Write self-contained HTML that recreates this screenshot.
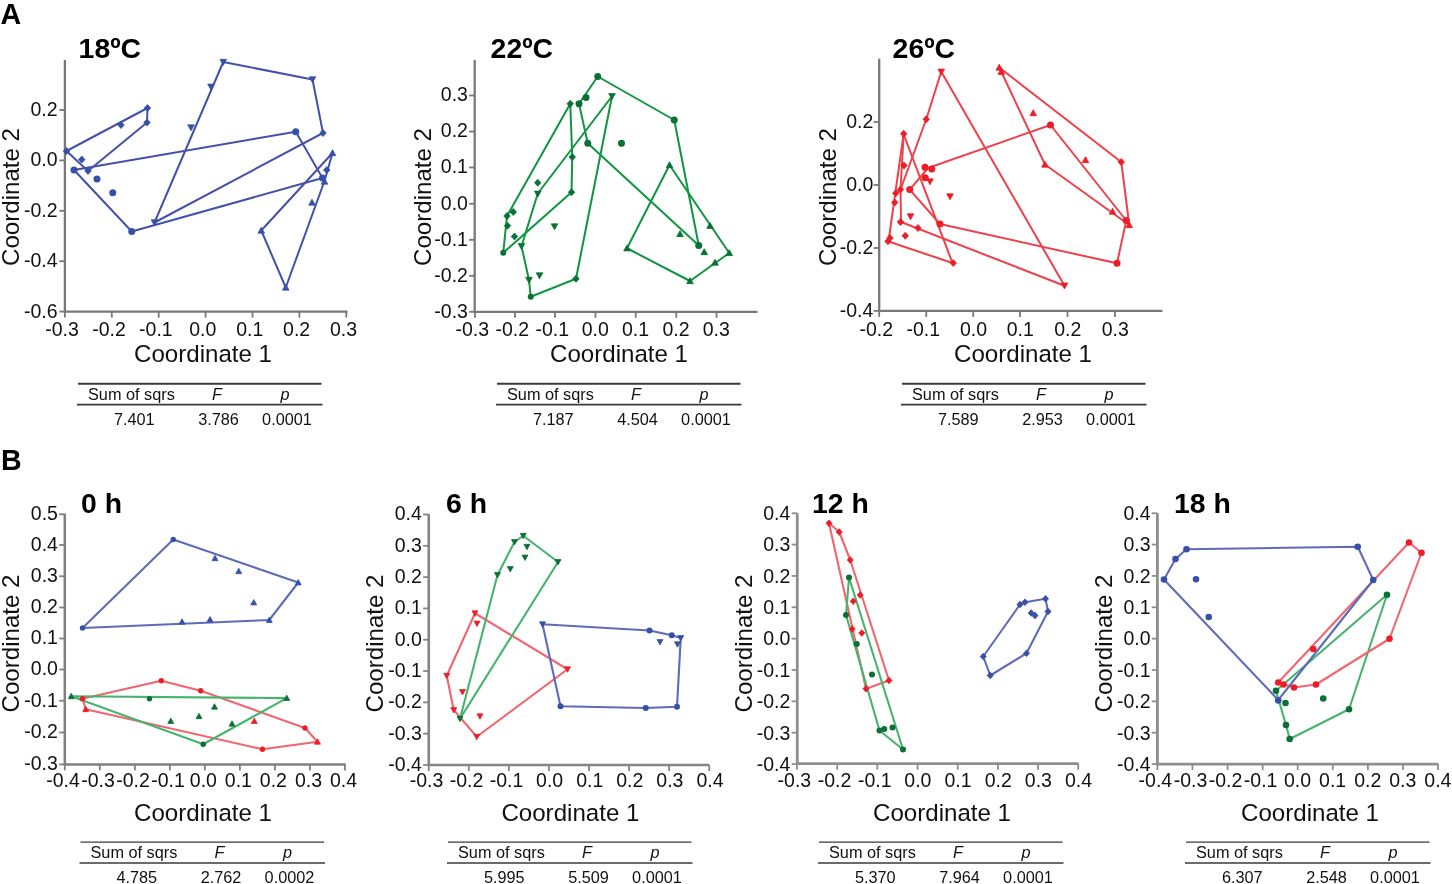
<!DOCTYPE html>
<html lang="en">
<head>
<meta charset="utf-8">
<title>PCoA ordination by temperature and time</title>
<style>
html,body{margin:0;padding:0;background:#fff;}
body{width:1452px;height:884px;overflow:hidden;font-family:"Liberation Sans",sans-serif;}
svg{display:block;filter:blur(0.45px);}
svg text{font-family:"Liberation Sans",sans-serif;fill:#111;}
.tk text{font-size:19.5px;}
.lab{font-size:24.1px;}
.ttl{font-size:28.4px;font-weight:bold;fill:#000;}
.pl{font-size:28.6px;font-weight:bold;fill:#000;}
.tb text{font-size:16.3px;}
</style>
</head>
<body>
<svg width="1452" height="884" viewBox="0 0 1452 884">
<rect width="1452" height="884" fill="#ffffff"/>
<g stroke="#787878" stroke-width="2.3" fill="none">
<path d="M64.9,60 V311.6 H347.5"/>
<path d="M59.300000000000004,110 H64.9" stroke-width="1.8"/>
<path d="M59.300000000000004,160.4 H64.9" stroke-width="1.8"/>
<path d="M59.300000000000004,210.8 H64.9" stroke-width="1.8"/>
<path d="M59.300000000000004,261.2 H64.9" stroke-width="1.8"/>
<path d="M59.300000000000004,311.6 H64.9" stroke-width="1.8"/>
<path d="M64.9,311.6 V317.6" stroke-width="1.8"/>
<path d="M111.8,311.6 V317.6" stroke-width="1.8"/>
<path d="M158.7,311.6 V317.6" stroke-width="1.8"/>
<path d="M205.6,311.6 V317.6" stroke-width="1.8"/>
<path d="M252.5,311.6 V317.6" stroke-width="1.8"/>
<path d="M299.4,311.6 V317.6" stroke-width="1.8"/>
<path d="M346.3,311.6 V317.6" stroke-width="1.8"/>
</g>
<g class="tk">
<text x="57.50000000000001" y="115.90" text-anchor="end">0.2</text>
<text x="57.50000000000001" y="166.30" text-anchor="end">0.0</text>
<text x="57.50000000000001" y="216.70" text-anchor="end">-0.2</text>
<text x="57.50000000000001" y="267.10" text-anchor="end">-0.4</text>
<text x="57.50000000000001" y="317.50" text-anchor="end">-0.6</text>
<text x="62.10000000000001" y="335.8" text-anchor="middle">-0.3</text>
<text x="109.0" y="335.8" text-anchor="middle">-0.2</text>
<text x="155.89999999999998" y="335.8" text-anchor="middle">-0.1</text>
<text x="202.79999999999998" y="335.8" text-anchor="middle">0.0</text>
<text x="249.7" y="335.8" text-anchor="middle">0.1</text>
<text x="296.59999999999997" y="335.8" text-anchor="middle">0.2</text>
<text x="343.5" y="335.8" text-anchor="middle">0.3</text>
</g>
<text class="ttl" x="78.6" y="58">18ºC</text>
<text class="lab" transform="translate(18.5,197) rotate(-90)" text-anchor="middle">Coordinate 2</text>
<text class="lab" x="203" y="361.75" text-anchor="middle">Coordinate 1</text>
<polygon points="66.5,151 147.5,108 147,122.5 88,171" fill="none" stroke="#4352a8" stroke-width="2.0" stroke-linejoin="round"/>
<polygon points="74,170 131.75,231.5 322.5,178 295.75,131.75" fill="none" stroke="#4352a8" stroke-width="2.0" stroke-linejoin="round"/>
<polygon points="223.25,62 312.5,79.5 323,133 154.5,222.5" fill="none" stroke="#4352a8" stroke-width="2.0" stroke-linejoin="round"/>
<polygon points="332.5,153 261.25,230.5 285.75,287.5 324.5,181" fill="none" stroke="#4352a8" stroke-width="2.0" stroke-linejoin="round"/>
<polygon points="223.25,65.30 226.55,59.36 219.95,59.36" fill="#3650a8" stroke="#3650a8" stroke-width="0.8" stroke-linejoin="round"/>
<polygon points="312.5,82.80 315.80,76.86 309.20,76.86" fill="#3650a8" stroke="#3650a8" stroke-width="0.8" stroke-linejoin="round"/>
<polygon points="323,129.50 326.22,133 323,136.50 319.78,133" fill="#3650a8" stroke="#3650a8" stroke-width="0.8" stroke-linejoin="round"/>
<polygon points="211,90.05 214.30,84.11 207.70,84.11" fill="#3650a8" stroke="#3650a8" stroke-width="0.8" stroke-linejoin="round"/>
<polygon points="191,130.80 194.30,124.86 187.70,124.86" fill="#3650a8" stroke="#3650a8" stroke-width="0.8" stroke-linejoin="round"/>
<circle cx="295.75" cy="131.75" r="3.50" fill="#3650a8"/>
<polygon points="147.5,104.50 150.72,108 147.5,111.50 144.28,108" fill="#3650a8" stroke="#3650a8" stroke-width="0.8" stroke-linejoin="round"/>
<polygon points="147,119.00 150.22,122.5 147,126.00 143.78,122.5" fill="#3650a8" stroke="#3650a8" stroke-width="0.8" stroke-linejoin="round"/>
<polygon points="121,121.50 124.22,125 121,128.50 117.78,125" fill="#3650a8" stroke="#3650a8" stroke-width="0.8" stroke-linejoin="round"/>
<polygon points="66.5,147.50 69.72,151 66.5,154.50 63.28,151" fill="#3650a8" stroke="#3650a8" stroke-width="0.8" stroke-linejoin="round"/>
<polygon points="81.75,156.00 84.97,159.5 81.75,163.00 78.53,159.5" fill="#3650a8" stroke="#3650a8" stroke-width="0.8" stroke-linejoin="round"/>
<circle cx="74" cy="170" r="3.50" fill="#3650a8"/>
<polygon points="88,167.50 91.22,171 88,174.50 84.78,171" fill="#3650a8" stroke="#3650a8" stroke-width="0.8" stroke-linejoin="round"/>
<circle cx="97" cy="179" r="3.50" fill="#3650a8"/>
<circle cx="112.75" cy="192.75" r="3.50" fill="#3650a8"/>
<polygon points="332.5,149.70 335.80,155.64 329.20,155.64" fill="#3650a8" stroke="#3650a8" stroke-width="0.8" stroke-linejoin="round"/>
<polygon points="326.75,166.50 329.97,170 326.75,173.50 323.53,170" fill="#3650a8" stroke="#3650a8" stroke-width="0.8" stroke-linejoin="round"/>
<circle cx="322.5" cy="178" r="3.50" fill="#3650a8"/>
<polygon points="324.5,178.20 327.80,184.14 321.20,184.14" fill="#3650a8" stroke="#3650a8" stroke-width="0.8" stroke-linejoin="round"/>
<polygon points="312,199.20 315.30,205.14 308.70,205.14" fill="#3650a8" stroke="#3650a8" stroke-width="0.8" stroke-linejoin="round"/>
<circle cx="131.75" cy="231.5" r="3.50" fill="#3650a8"/>
<polygon points="154.5,225.80 157.80,219.86 151.20,219.86" fill="#3650a8" stroke="#3650a8" stroke-width="0.8" stroke-linejoin="round"/>
<polygon points="261.25,227.20 264.55,233.14 257.95,233.14" fill="#3650a8" stroke="#3650a8" stroke-width="0.8" stroke-linejoin="round"/>
<polygon points="285.75,284.20 289.05,290.14 282.45,290.14" fill="#3650a8" stroke="#3650a8" stroke-width="0.8" stroke-linejoin="round"/>
<g stroke="#3a3a3a" stroke-width="1.8"><path d="M78,383.75 H321.5"/><path d="M77,404.65 H322.5"/></g>
<g class="tb"><text x="88" y="399.55">Sum of sqrs</text><text x="217" y="399.55" text-anchor="middle" font-style="italic">F</text><text x="285" y="399.55" text-anchor="middle" font-style="italic">p</text><text x="134.3" y="425.05" text-anchor="middle">7.401</text><text x="218.5" y="425.05" text-anchor="middle">3.786</text><text x="287" y="425.05" text-anchor="middle">0.0001</text></g>
<g stroke="#787878" stroke-width="2.3" fill="none">
<path d="M474.7,60 V311.8 H757.5"/>
<path d="M469.09999999999997,95.5 H474.7" stroke-width="1.8"/>
<path d="M469.09999999999997,131.5 H474.7" stroke-width="1.8"/>
<path d="M469.09999999999997,167.5 H474.7" stroke-width="1.8"/>
<path d="M469.09999999999997,203.75 H474.7" stroke-width="1.8"/>
<path d="M469.09999999999997,239.8 H474.7" stroke-width="1.8"/>
<path d="M469.09999999999997,275.8 H474.7" stroke-width="1.8"/>
<path d="M469.09999999999997,311.8 H474.7" stroke-width="1.8"/>
<path d="M475,311.8 V317.8" stroke-width="1.8"/>
<path d="M515,311.8 V317.8" stroke-width="1.8"/>
<path d="M555,311.8 V317.8" stroke-width="1.8"/>
<path d="M595.5,311.8 V317.8" stroke-width="1.8"/>
<path d="M635.75,311.8 V317.8" stroke-width="1.8"/>
<path d="M676.25,311.8 V317.8" stroke-width="1.8"/>
<path d="M716.5,311.8 V317.8" stroke-width="1.8"/>
</g>
<g class="tk">
<text x="467.95" y="101.40" text-anchor="end">0.3</text>
<text x="467.95" y="137.40" text-anchor="end">0.2</text>
<text x="467.95" y="173.40" text-anchor="end">0.1</text>
<text x="467.95" y="209.65" text-anchor="end">0.0</text>
<text x="467.95" y="245.70" text-anchor="end">-0.1</text>
<text x="467.95" y="281.70" text-anchor="end">-0.2</text>
<text x="467.95" y="317.70" text-anchor="end">-0.3</text>
<text x="472.2" y="335.8" text-anchor="middle">-0.3</text>
<text x="512.2" y="335.8" text-anchor="middle">-0.2</text>
<text x="552.2" y="335.8" text-anchor="middle">-0.1</text>
<text x="595.2" y="335.8" text-anchor="middle">0.0</text>
<text x="635.45" y="335.8" text-anchor="middle">0.1</text>
<text x="675.95" y="335.8" text-anchor="middle">0.2</text>
<text x="716.2" y="335.8" text-anchor="middle">0.3</text>
</g>
<text class="ttl" x="490.6" y="58">22ºC</text>
<text class="lab" transform="translate(431,197) rotate(-90)" text-anchor="middle">Coordinate 2</text>
<text class="lab" x="619.0" y="361.75" text-anchor="middle">Coordinate 1</text>
<polygon points="597.75,76.5 674.25,120 698.75,245.5 587.75,143.25 579,103.75" fill="none" stroke="#0f9641" stroke-width="2.0" stroke-linejoin="round"/>
<polygon points="570.25,103.75 507,216 503.25,252.75 571.5,192.25 572.25,157" fill="none" stroke="#0f9641" stroke-width="2.0" stroke-linejoin="round"/>
<polygon points="612,96.25 537.75,193.5 521.5,246.25 529,280 530.75,296.75 576,278.75" fill="none" stroke="#0f9641" stroke-width="2.0" stroke-linejoin="round"/>
<polygon points="669.5,165 627,248.25 690,281 729.25,253" fill="none" stroke="#0f9641" stroke-width="2.0" stroke-linejoin="round"/>
<circle cx="597.75" cy="76.5" r="3.50" fill="#0a7035"/>
<circle cx="674.25" cy="120" r="3.50" fill="#0a7035"/>
<circle cx="586" cy="97.5" r="3.50" fill="#0a7035"/>
<circle cx="579" cy="103.75" r="3.50" fill="#0a7035"/>
<polygon points="570.25,100.25 573.47,103.75 570.25,107.25 567.03,103.75" fill="#0a7035" stroke="#0a7035" stroke-width="0.8" stroke-linejoin="round"/>
<polygon points="612,99.55 615.30,93.61 608.70,93.61" fill="#0a7035" stroke="#0a7035" stroke-width="0.8" stroke-linejoin="round"/>
<circle cx="587.75" cy="143.25" r="3.50" fill="#0a7035"/>
<circle cx="621.5" cy="143.25" r="3.50" fill="#0a7035"/>
<polygon points="572.25,153.50 575.47,157 572.25,160.50 569.03,157" fill="#0a7035" stroke="#0a7035" stroke-width="0.8" stroke-linejoin="round"/>
<polygon points="571.5,188.75 574.72,192.25 571.5,195.75 568.28,192.25" fill="#0a7035" stroke="#0a7035" stroke-width="0.8" stroke-linejoin="round"/>
<polygon points="537.75,179.25 540.97,182.75 537.75,186.25 534.53,182.75" fill="#0a7035" stroke="#0a7035" stroke-width="0.8" stroke-linejoin="round"/>
<polygon points="537.75,197.05 541.05,191.11 534.45,191.11" fill="#0a7035" stroke="#0a7035" stroke-width="0.8" stroke-linejoin="round"/>
<polygon points="513.25,208.50 516.47,212 513.25,215.50 510.03,212" fill="#0a7035" stroke="#0a7035" stroke-width="0.8" stroke-linejoin="round"/>
<polygon points="507,212.50 510.22,216 507,219.50 503.78,216" fill="#0a7035" stroke="#0a7035" stroke-width="0.8" stroke-linejoin="round"/>
<polygon points="507.5,222.25 510.72,225.75 507.5,229.25 504.28,225.75" fill="#0a7035" stroke="#0a7035" stroke-width="0.8" stroke-linejoin="round"/>
<polygon points="554.5,229.80 557.80,223.86 551.20,223.86" fill="#0a7035" stroke="#0a7035" stroke-width="0.8" stroke-linejoin="round"/>
<polygon points="514.5,233.00 517.72,236.5 514.5,240.00 511.28,236.5" fill="#0a7035" stroke="#0a7035" stroke-width="0.8" stroke-linejoin="round"/>
<polygon points="669.5,161.70 672.80,167.64 666.20,167.64" fill="#0a7035" stroke="#0a7035" stroke-width="0.8" stroke-linejoin="round"/>
<polygon points="710,222.45 713.30,228.39 706.70,228.39" fill="#0a7035" stroke="#0a7035" stroke-width="0.8" stroke-linejoin="round"/>
<polygon points="680,230.70 683.30,236.64 676.70,236.64" fill="#0a7035" stroke="#0a7035" stroke-width="0.8" stroke-linejoin="round"/>
<circle cx="503.25" cy="252.75" r="3.00" fill="#0a7035"/>
<polygon points="521.5,249.55 524.80,243.61 518.20,243.61" fill="#0a7035" stroke="#0a7035" stroke-width="0.8" stroke-linejoin="round"/>
<polygon points="529,283.30 532.30,277.36 525.70,277.36" fill="#0a7035" stroke="#0a7035" stroke-width="0.8" stroke-linejoin="round"/>
<polygon points="539.5,278.80 542.80,272.86 536.20,272.86" fill="#0a7035" stroke="#0a7035" stroke-width="0.8" stroke-linejoin="round"/>
<circle cx="530.75" cy="296.75" r="3.00" fill="#0a7035"/>
<polygon points="576,275.25 579.22,278.75 576,282.25 572.78,278.75" fill="#0a7035" stroke="#0a7035" stroke-width="0.8" stroke-linejoin="round"/>
<polygon points="627,244.95 630.30,250.89 623.70,250.89" fill="#0a7035" stroke="#0a7035" stroke-width="0.8" stroke-linejoin="round"/>
<circle cx="698.75" cy="245.5" r="3.50" fill="#0a7035"/>
<polygon points="704.25,248.70 707.55,254.64 700.95,254.64" fill="#0a7035" stroke="#0a7035" stroke-width="0.8" stroke-linejoin="round"/>
<polygon points="729.25,249.70 732.55,255.64 725.95,255.64" fill="#0a7035" stroke="#0a7035" stroke-width="0.8" stroke-linejoin="round"/>
<polygon points="715,259.20 718.30,265.14 711.70,265.14" fill="#0a7035" stroke="#0a7035" stroke-width="0.8" stroke-linejoin="round"/>
<polygon points="690,277.70 693.30,283.64 686.70,283.64" fill="#0a7035" stroke="#0a7035" stroke-width="0.8" stroke-linejoin="round"/>
<g stroke="#3a3a3a" stroke-width="1.8"><path d="M497,383.75 H740.5"/><path d="M496,404.65 H741.5"/></g>
<g class="tb"><text x="507" y="399.55">Sum of sqrs</text><text x="636" y="399.55" text-anchor="middle" font-style="italic">F</text><text x="704" y="399.55" text-anchor="middle" font-style="italic">p</text><text x="553.3" y="425.05" text-anchor="middle">7.187</text><text x="637.5" y="425.05" text-anchor="middle">4.504</text><text x="706" y="425.05" text-anchor="middle">0.0001</text></g>
<g stroke="#787878" stroke-width="2.3" fill="none">
<path d="M879.2,58.75 V310.9 H1162.5"/>
<path d="M873.6,122 H879.2" stroke-width="1.8"/>
<path d="M873.6,185 H879.2" stroke-width="1.8"/>
<path d="M873.6,248 H879.2" stroke-width="1.8"/>
<path d="M873.6,310.9 H879.2" stroke-width="1.8"/>
<path d="M879.2,310.9 V316.9" stroke-width="1.8"/>
<path d="M926.25,310.9 V316.9" stroke-width="1.8"/>
<path d="M973.25,310.9 V316.9" stroke-width="1.8"/>
<path d="M1020,310.9 V316.9" stroke-width="1.8"/>
<path d="M1067.5,310.9 V316.9" stroke-width="1.8"/>
<path d="M1115,310.9 V316.9" stroke-width="1.8"/>
</g>
<g class="tk">
<text x="873.3000000000001" y="127.90" text-anchor="end">0.2</text>
<text x="873.3000000000001" y="190.90" text-anchor="end">0.0</text>
<text x="873.3000000000001" y="253.90" text-anchor="end">-0.2</text>
<text x="873.3000000000001" y="316.80" text-anchor="end">-0.4</text>
<text x="876.2" y="335.8" text-anchor="middle">-0.2</text>
<text x="923.25" y="335.8" text-anchor="middle">-0.1</text>
<text x="973.45" y="335.8" text-anchor="middle">0.0</text>
<text x="1020.2" y="335.8" text-anchor="middle">0.1</text>
<text x="1067.7" y="335.8" text-anchor="middle">0.2</text>
<text x="1115.2" y="335.8" text-anchor="middle">0.3</text>
</g>
<text class="ttl" x="892.6" y="58">26ºC</text>
<text class="lab" transform="translate(835.6,197) rotate(-90)" text-anchor="middle">Coordinate 2</text>
<text class="lab" x="1023" y="361.75" text-anchor="middle">Coordinate 1</text>
<polygon points="903.6,134.2 952.5,263 888.5,241.5" fill="none" stroke="#ee414b" stroke-width="2.0" stroke-linejoin="round"/>
<polyline points="941.25,71.75 1064.5,285.75 901,222 900.5,189.5 903.6,135" fill="none" stroke="#ee414b" stroke-width="2.0" stroke-linejoin="round"/>
<polyline points="941.25,71.75 926.25,119.25 900.5,189.5 896,193.5" fill="none" stroke="#ee414b" stroke-width="2.0" stroke-linejoin="round"/>
<polygon points="999.25,67.5 1121.25,162 1129.25,225 1045,164.5 1001.25,71.75" fill="none" stroke="#ee414b" stroke-width="2.0" stroke-linejoin="round"/>
<polygon points="1050.5,125 928,168 909.7,189.6 940,224 1117,263.25 1126.25,220.5" fill="none" stroke="#ee414b" stroke-width="2.0" stroke-linejoin="round"/>
<polygon points="941.25,75.05 944.55,69.11 937.95,69.11" fill="#eb1e28" stroke="#eb1e28" stroke-width="0.8" stroke-linejoin="round"/>
<polygon points="999.25,64.20 1002.55,70.14 995.95,70.14" fill="#eb1e28" stroke="#eb1e28" stroke-width="0.8" stroke-linejoin="round"/>
<polygon points="1001.25,68.45 1004.55,74.39 997.95,74.39" fill="#eb1e28" stroke="#eb1e28" stroke-width="0.8" stroke-linejoin="round"/>
<polygon points="926.25,115.75 929.47,119.25 926.25,122.75 923.03,119.25" fill="#eb1e28" stroke="#eb1e28" stroke-width="0.8" stroke-linejoin="round"/>
<polygon points="903.75,130.25 906.97,133.75 903.75,137.25 900.53,133.75" fill="#eb1e28" stroke="#eb1e28" stroke-width="0.8" stroke-linejoin="round"/>
<polygon points="1033.25,109.70 1036.55,115.64 1029.95,115.64" fill="#eb1e28" stroke="#eb1e28" stroke-width="0.8" stroke-linejoin="round"/>
<circle cx="1050.5" cy="125" r="3.50" fill="#eb1e28"/>
<polygon points="1085.5,156.70 1088.80,162.64 1082.20,162.64" fill="#eb1e28" stroke="#eb1e28" stroke-width="0.8" stroke-linejoin="round"/>
<polygon points="1121.25,158.50 1124.47,162 1121.25,165.50 1118.03,162" fill="#eb1e28" stroke="#eb1e28" stroke-width="0.8" stroke-linejoin="round"/>
<polygon points="1045,161.20 1048.30,167.14 1041.70,167.14" fill="#eb1e28" stroke="#eb1e28" stroke-width="0.8" stroke-linejoin="round"/>
<polygon points="904,162.00 907.22,165.5 904,169.00 900.78,165.5" fill="#eb1e28" stroke="#eb1e28" stroke-width="0.8" stroke-linejoin="round"/>
<circle cx="925" cy="167.3" r="3.50" fill="#eb1e28"/>
<circle cx="931.75" cy="169" r="3.50" fill="#eb1e28"/>
<circle cx="925.25" cy="177.75" r="3.50" fill="#eb1e28"/>
<polygon points="930,184.80 933.30,178.86 926.70,178.86" fill="#eb1e28" stroke="#eb1e28" stroke-width="0.8" stroke-linejoin="round"/>
<circle cx="909.7" cy="189.6" r="3.50" fill="#eb1e28"/>
<polygon points="900.5,186.00 903.72,189.5 900.5,193.00 897.28,189.5" fill="#eb1e28" stroke="#eb1e28" stroke-width="0.8" stroke-linejoin="round"/>
<polygon points="895.75,189.75 898.97,193.25 895.75,196.75 892.53,193.25" fill="#eb1e28" stroke="#eb1e28" stroke-width="0.8" stroke-linejoin="round"/>
<polygon points="950,199.80 953.30,193.86 946.70,193.86" fill="#eb1e28" stroke="#eb1e28" stroke-width="0.8" stroke-linejoin="round"/>
<polygon points="894.75,199.00 897.97,202.5 894.75,206.00 891.53,202.5" fill="#eb1e28" stroke="#eb1e28" stroke-width="0.8" stroke-linejoin="round"/>
<polygon points="910.5,219.80 913.80,213.86 907.20,213.86" fill="#eb1e28" stroke="#eb1e28" stroke-width="0.8" stroke-linejoin="round"/>
<polygon points="900.5,218.50 903.72,222 900.5,225.50 897.28,222" fill="#eb1e28" stroke="#eb1e28" stroke-width="0.8" stroke-linejoin="round"/>
<circle cx="940" cy="224" r="3.50" fill="#eb1e28"/>
<polygon points="918,224.50 921.22,228 918,231.50 914.78,228" fill="#eb1e28" stroke="#eb1e28" stroke-width="0.8" stroke-linejoin="round"/>
<polygon points="905.25,232.25 908.47,235.75 905.25,239.25 902.03,235.75" fill="#eb1e28" stroke="#eb1e28" stroke-width="0.8" stroke-linejoin="round"/>
<polygon points="890,234.50 893.22,238 890,241.50 886.78,238" fill="#eb1e28" stroke="#eb1e28" stroke-width="0.8" stroke-linejoin="round"/>
<polygon points="888,237.75 891.22,241.25 888,244.75 884.78,241.25" fill="#eb1e28" stroke="#eb1e28" stroke-width="0.8" stroke-linejoin="round"/>
<polygon points="953.25,259.50 956.47,263 953.25,266.50 950.03,263" fill="#eb1e28" stroke="#eb1e28" stroke-width="0.8" stroke-linejoin="round"/>
<polygon points="1064.5,289.05 1067.80,283.11 1061.20,283.11" fill="#eb1e28" stroke="#eb1e28" stroke-width="0.8" stroke-linejoin="round"/>
<circle cx="1117" cy="263.25" r="3.50" fill="#eb1e28"/>
<polygon points="1112.5,208.20 1115.80,214.14 1109.20,214.14" fill="#eb1e28" stroke="#eb1e28" stroke-width="0.8" stroke-linejoin="round"/>
<circle cx="1126.25" cy="220.5" r="3.50" fill="#eb1e28"/>
<polygon points="1129.25,221.70 1132.55,227.64 1125.95,227.64" fill="#eb1e28" stroke="#eb1e28" stroke-width="0.8" stroke-linejoin="round"/>
<g stroke="#3a3a3a" stroke-width="1.8"><path d="M902,383.75 H1145.5"/><path d="M901,404.65 H1146.5"/></g>
<g class="tb"><text x="912" y="399.55">Sum of sqrs</text><text x="1041" y="399.55" text-anchor="middle" font-style="italic">F</text><text x="1109" y="399.55" text-anchor="middle" font-style="italic">p</text><text x="958.3" y="425.05" text-anchor="middle">7.589</text><text x="1042.5" y="425.05" text-anchor="middle">2.953</text><text x="1111" y="425.05" text-anchor="middle">0.0001</text></g>
<g stroke="#808080" stroke-width="2.5" fill="none">
<path d="M64.8,513.75 V764.4 H345.5"/>
<path d="M59.199999999999996,514.25 H64.8" stroke-width="1.8"/>
<path d="M59.199999999999996,545 H64.8" stroke-width="1.8"/>
<path d="M59.199999999999996,576.25 H64.8" stroke-width="1.8"/>
<path d="M59.199999999999996,607.5 H64.8" stroke-width="1.8"/>
<path d="M59.199999999999996,638.5 H64.8" stroke-width="1.8"/>
<path d="M59.199999999999996,669.5 H64.8" stroke-width="1.8"/>
<path d="M59.199999999999996,700.75 H64.8" stroke-width="1.8"/>
<path d="M59.199999999999996,732.5 H64.8" stroke-width="1.8"/>
<path d="M59.199999999999996,764.4 H64.8" stroke-width="1.8"/>
<path d="M64.8,764.4 V770.4" stroke-width="1.8"/>
<path d="M99.82,764.4 V770.4" stroke-width="1.8"/>
<path d="M134.84,764.4 V770.4" stroke-width="1.8"/>
<path d="M169.86,764.4 V770.4" stroke-width="1.8"/>
<path d="M204.88,764.4 V770.4" stroke-width="1.8"/>
<path d="M239.9,764.4 V770.4" stroke-width="1.8"/>
<path d="M274.92,764.4 V770.4" stroke-width="1.8"/>
<path d="M309.94,764.4 V770.4" stroke-width="1.8"/>
<path d="M344.96,764.4 V770.4" stroke-width="1.8"/>
</g>
<g class="tk">
<text x="57.9" y="520.15" text-anchor="end">0.5</text>
<text x="57.9" y="550.90" text-anchor="end">0.4</text>
<text x="57.9" y="582.15" text-anchor="end">0.3</text>
<text x="57.9" y="613.40" text-anchor="end">0.2</text>
<text x="57.9" y="644.40" text-anchor="end">0.1</text>
<text x="57.9" y="675.40" text-anchor="end">0.0</text>
<text x="57.9" y="706.65" text-anchor="end">-0.1</text>
<text x="57.9" y="738.40" text-anchor="end">-0.2</text>
<text x="57.9" y="770.30" text-anchor="end">-0.3</text>
<text x="63.0" y="787.4" text-anchor="middle">-0.4</text>
<text x="98.02" y="787.4" text-anchor="middle">-0.3</text>
<text x="133.04" y="787.4" text-anchor="middle">-0.2</text>
<text x="168.06" y="787.4" text-anchor="middle">-0.1</text>
<text x="203.38" y="787.4" text-anchor="middle">0.0</text>
<text x="238.4" y="787.4" text-anchor="middle">0.1</text>
<text x="273.42" y="787.4" text-anchor="middle">0.2</text>
<text x="308.44" y="787.4" text-anchor="middle">0.3</text>
<text x="343.46" y="787.4" text-anchor="middle">0.4</text>
</g>
<text class="ttl" x="81" y="513">0 h</text>
<text class="lab" transform="translate(19,643.5) rotate(-90)" text-anchor="middle">Coordinate 2</text>
<text class="lab" x="203" y="820.8" text-anchor="middle">Coordinate 1</text>
<polygon points="82.5,628 173.25,539.5 298.25,582.5 269.25,620" fill="none" stroke="#5f6bb9" stroke-width="2.1" stroke-linejoin="round"/>
<polygon points="82.5,698.75 161.25,680.75 200.75,690.75 305,728 317.5,741.75 262.5,749.25 85.75,709.25" fill="none" stroke="#f0666f" stroke-width="2.1" stroke-linejoin="round"/>
<polygon points="71.25,696.25 286.75,698.1 203.25,744.25" fill="none" stroke="#46b46e" stroke-width="2.1" stroke-linejoin="round"/>
<circle cx="173.25" cy="539.5" r="2.70" fill="#3650a8"/>
<polygon points="215,555.28 217.97,560.63 212.03,560.63" fill="#3650a8" stroke="#3650a8" stroke-width="0.8" stroke-linejoin="round"/>
<polygon points="238.75,568.28 241.72,573.63 235.78,573.63" fill="#3650a8" stroke="#3650a8" stroke-width="0.8" stroke-linejoin="round"/>
<polygon points="298.25,579.53 301.22,584.88 295.28,584.88" fill="#3650a8" stroke="#3650a8" stroke-width="0.8" stroke-linejoin="round"/>
<polygon points="253.75,599.53 256.72,604.88 250.78,604.88" fill="#3650a8" stroke="#3650a8" stroke-width="0.8" stroke-linejoin="round"/>
<polygon points="269.25,617.03 272.22,622.38 266.28,622.38" fill="#3650a8" stroke="#3650a8" stroke-width="0.8" stroke-linejoin="round"/>
<polygon points="210,616.53 212.97,621.88 207.03,621.88" fill="#3650a8" stroke="#3650a8" stroke-width="0.8" stroke-linejoin="round"/>
<polygon points="182,618.78 184.97,624.13 179.03,624.13" fill="#3650a8" stroke="#3650a8" stroke-width="0.8" stroke-linejoin="round"/>
<circle cx="82.5" cy="628" r="2.70" fill="#3650a8"/>
<circle cx="161.25" cy="680.75" r="2.70" fill="#eb1e28"/>
<circle cx="200.75" cy="690.75" r="2.70" fill="#eb1e28"/>
<circle cx="82.5" cy="698.75" r="2.70" fill="#eb1e28"/>
<polygon points="85.75,706.28 88.72,711.63 82.78,711.63" fill="#eb1e28" stroke="#eb1e28" stroke-width="0.8" stroke-linejoin="round"/>
<polygon points="254.25,718.03 257.22,723.38 251.28,723.38" fill="#eb1e28" stroke="#eb1e28" stroke-width="0.8" stroke-linejoin="round"/>
<circle cx="305" cy="728" r="2.70" fill="#eb1e28"/>
<polygon points="317.5,738.78 320.47,744.13 314.53,744.13" fill="#eb1e28" stroke="#eb1e28" stroke-width="0.8" stroke-linejoin="round"/>
<circle cx="262.5" cy="749.25" r="2.70" fill="#eb1e28"/>
<polygon points="71.25,693.28 74.22,698.63 68.28,698.63" fill="#0a7035" stroke="#0a7035" stroke-width="0.8" stroke-linejoin="round"/>
<circle cx="149.5" cy="698.75" r="2.70" fill="#0a7035"/>
<polygon points="286.75,695.13 289.72,700.48 283.78,700.48" fill="#0a7035" stroke="#0a7035" stroke-width="0.8" stroke-linejoin="round"/>
<polygon points="214.5,703.78 217.47,709.13 211.53,709.13" fill="#0a7035" stroke="#0a7035" stroke-width="0.8" stroke-linejoin="round"/>
<polygon points="199,713.28 201.97,718.63 196.03,718.63" fill="#0a7035" stroke="#0a7035" stroke-width="0.8" stroke-linejoin="round"/>
<polygon points="170.75,718.03 173.72,723.38 167.78,723.38" fill="#0a7035" stroke="#0a7035" stroke-width="0.8" stroke-linejoin="round"/>
<polygon points="232,720.78 234.97,726.13 229.03,726.13" fill="#0a7035" stroke="#0a7035" stroke-width="0.8" stroke-linejoin="round"/>
<circle cx="203.25" cy="744.25" r="2.70" fill="#0a7035"/>
<g stroke="#3a3a3a" stroke-width="1.4"><path d="M80.5,842.1 H324.0"/><path d="M79.5,863.0 H325.0"/></g>
<g class="tb"><text x="90.5" y="857.9">Sum of sqrs</text><text x="219.5" y="857.9" text-anchor="middle" font-style="italic">F</text><text x="287.5" y="857.9" text-anchor="middle" font-style="italic">p</text><text x="136.8" y="883.4" text-anchor="middle">4.785</text><text x="221.0" y="883.4" text-anchor="middle">2.762</text><text x="289.5" y="883.4" text-anchor="middle">0.0002</text></g>
<g stroke="#858585" stroke-width="2.6" fill="none">
<path d="M428.75,514.25 V765.0 H709.25"/>
<path d="M423.15,514.5 H428.75" stroke-width="1.8"/>
<path d="M423.15,545.81 H428.75" stroke-width="1.8"/>
<path d="M423.15,577.12 H428.75" stroke-width="1.8"/>
<path d="M423.15,608.43 H428.75" stroke-width="1.8"/>
<path d="M423.15,639.74 H428.75" stroke-width="1.8"/>
<path d="M423.15,671.05 H428.75" stroke-width="1.8"/>
<path d="M423.15,702.36 H428.75" stroke-width="1.8"/>
<path d="M423.15,733.67 H428.75" stroke-width="1.8"/>
<path d="M423.15,764.98 H428.75" stroke-width="1.8"/>
<path d="M428.75,765.0 V771.0" stroke-width="1.8"/>
<path d="M468.82,765.0 V771.0" stroke-width="1.8"/>
<path d="M508.89,765.0 V771.0" stroke-width="1.8"/>
<path d="M548.96,765.0 V771.0" stroke-width="1.8"/>
<path d="M589.03,765.0 V771.0" stroke-width="1.8"/>
<path d="M629.1,765.0 V771.0" stroke-width="1.8"/>
<path d="M669.17,765.0 V771.0" stroke-width="1.8"/>
<path d="M709.24,765.0 V771.0" stroke-width="1.8"/>
</g>
<g class="tk">
<text x="421.85" y="520.40" text-anchor="end">0.4</text>
<text x="421.85" y="551.71" text-anchor="end">0.3</text>
<text x="421.85" y="583.02" text-anchor="end">0.2</text>
<text x="421.85" y="614.33" text-anchor="end">0.1</text>
<text x="421.85" y="645.64" text-anchor="end">0.0</text>
<text x="421.85" y="676.95" text-anchor="end">-0.1</text>
<text x="421.85" y="708.26" text-anchor="end">-0.2</text>
<text x="421.85" y="739.57" text-anchor="end">-0.3</text>
<text x="421.85" y="770.88" text-anchor="end">-0.4</text>
<text x="426.45" y="787.4" text-anchor="middle">-0.3</text>
<text x="466.52" y="787.4" text-anchor="middle">-0.2</text>
<text x="506.59" y="787.4" text-anchor="middle">-0.1</text>
<text x="549.6600000000001" y="787.4" text-anchor="middle">0.0</text>
<text x="589.73" y="787.4" text-anchor="middle">0.1</text>
<text x="629.8000000000001" y="787.4" text-anchor="middle">0.2</text>
<text x="669.87" y="787.4" text-anchor="middle">0.3</text>
<text x="709.94" y="787.4" text-anchor="middle">0.4</text>
</g>
<text class="ttl" x="446" y="513">6 h</text>
<text class="lab" transform="translate(383,643.5) rotate(-90)" text-anchor="middle">Coordinate 2</text>
<text class="lab" x="570.4" y="820.8" text-anchor="middle">Coordinate 1</text>
<polygon points="475,613.25 567.5,669.25 476.75,736.75 453.75,710 446.75,675.75" fill="none" stroke="#f0666f" stroke-width="2.1" stroke-linejoin="round"/>
<polygon points="497.5,575 514.5,542 523.25,535.75 558,562 460,718.75" fill="none" stroke="#46b46e" stroke-width="2.1" stroke-linejoin="round"/>
<polygon points="542.5,624.25 649.5,630.5 671.75,635.25 680.75,638 677,706.75 645.75,708 560.5,706.25" fill="none" stroke="#5f6bb9" stroke-width="2.1" stroke-linejoin="round"/>
<polygon points="523.25,538.72 526.22,533.37 520.28,533.37" fill="#0a7035" stroke="#0a7035" stroke-width="0.8" stroke-linejoin="round"/>
<polygon points="514.5,544.97 517.47,539.62 511.53,539.62" fill="#0a7035" stroke="#0a7035" stroke-width="0.8" stroke-linejoin="round"/>
<polygon points="527,549.72 529.97,544.37 524.03,544.37" fill="#0a7035" stroke="#0a7035" stroke-width="0.8" stroke-linejoin="round"/>
<polygon points="525,560.47 527.97,555.12 522.03,555.12" fill="#0a7035" stroke="#0a7035" stroke-width="0.8" stroke-linejoin="round"/>
<polygon points="558,564.97 560.97,559.62 555.03,559.62" fill="#0a7035" stroke="#0a7035" stroke-width="0.8" stroke-linejoin="round"/>
<polygon points="510.25,571.97 513.22,566.62 507.28,566.62" fill="#0a7035" stroke="#0a7035" stroke-width="0.8" stroke-linejoin="round"/>
<polygon points="497.5,577.97 500.47,572.62 494.53,572.62" fill="#0a7035" stroke="#0a7035" stroke-width="0.8" stroke-linejoin="round"/>
<polygon points="460,721.72 462.97,716.37 457.03,716.37" fill="#0a7035" stroke="#0a7035" stroke-width="0.8" stroke-linejoin="round"/>
<polygon points="475,616.22 477.97,610.87 472.03,610.87" fill="#eb1e28" stroke="#eb1e28" stroke-width="0.8" stroke-linejoin="round"/>
<polygon points="477,626.47 479.97,621.12 474.03,621.12" fill="#eb1e28" stroke="#eb1e28" stroke-width="0.8" stroke-linejoin="round"/>
<polygon points="567.5,672.22 570.47,666.87 564.53,666.87" fill="#eb1e28" stroke="#eb1e28" stroke-width="0.8" stroke-linejoin="round"/>
<polygon points="446.75,678.72 449.72,673.37 443.78,673.37" fill="#eb1e28" stroke="#eb1e28" stroke-width="0.8" stroke-linejoin="round"/>
<polygon points="462.5,694.97 465.47,689.62 459.53,689.62" fill="#eb1e28" stroke="#eb1e28" stroke-width="0.8" stroke-linejoin="round"/>
<polygon points="453.75,712.97 456.72,707.62 450.78,707.62" fill="#eb1e28" stroke="#eb1e28" stroke-width="0.8" stroke-linejoin="round"/>
<polygon points="480,719.22 482.97,713.87 477.03,713.87" fill="#eb1e28" stroke="#eb1e28" stroke-width="0.8" stroke-linejoin="round"/>
<polygon points="476.75,739.72 479.72,734.37 473.78,734.37" fill="#eb1e28" stroke="#eb1e28" stroke-width="0.8" stroke-linejoin="round"/>
<polygon points="542.5,627.22 545.47,621.87 539.53,621.87" fill="#3650a8" stroke="#3650a8" stroke-width="0.8" stroke-linejoin="round"/>
<polygon points="660,644.97 662.97,639.62 657.03,639.62" fill="#3650a8" stroke="#3650a8" stroke-width="0.8" stroke-linejoin="round"/>
<polygon points="677.5,647.22 680.47,641.87 674.53,641.87" fill="#3650a8" stroke="#3650a8" stroke-width="0.8" stroke-linejoin="round"/>
<polygon points="680.75,640.97 683.72,635.62 677.78,635.62" fill="#3650a8" stroke="#3650a8" stroke-width="0.8" stroke-linejoin="round"/>
<circle cx="649.5" cy="630.5" r="3.00" fill="#3650a8"/>
<circle cx="671.75" cy="635.25" r="3.00" fill="#3650a8"/>
<circle cx="560.5" cy="706.25" r="3.00" fill="#3650a8"/>
<circle cx="645.75" cy="708" r="3.00" fill="#3650a8"/>
<circle cx="677" cy="706.75" r="3.00" fill="#3650a8"/>
<g stroke="#3a3a3a" stroke-width="1.4"><path d="M448,842.1 H691.5"/><path d="M447,863.0 H692.5"/></g>
<g class="tb"><text x="458" y="857.9">Sum of sqrs</text><text x="587" y="857.9" text-anchor="middle" font-style="italic">F</text><text x="655" y="857.9" text-anchor="middle" font-style="italic">p</text><text x="504.3" y="883.4" text-anchor="middle">5.995</text><text x="588.5" y="883.4" text-anchor="middle">5.509</text><text x="657" y="883.4" text-anchor="middle">0.0001</text></g>
<g stroke="#8e8e8e" stroke-width="2.8" fill="none">
<path d="M797.25,513.25 V763.7 H1078.5"/>
<path d="M791.65,513.25 H797.25" stroke-width="1.8"/>
<path d="M791.65,544.6 H797.25" stroke-width="1.8"/>
<path d="M791.65,575.95 H797.25" stroke-width="1.8"/>
<path d="M791.65,607.3 H797.25" stroke-width="1.8"/>
<path d="M791.65,638.65 H797.25" stroke-width="1.8"/>
<path d="M791.65,670.0 H797.25" stroke-width="1.8"/>
<path d="M791.65,701.35 H797.25" stroke-width="1.8"/>
<path d="M791.65,732.7 H797.25" stroke-width="1.8"/>
<path d="M791.65,764.05 H797.25" stroke-width="1.8"/>
<path d="M797.0,763.7 V769.7" stroke-width="1.8"/>
<path d="M837.18,763.7 V769.7" stroke-width="1.8"/>
<path d="M877.36,763.7 V769.7" stroke-width="1.8"/>
<path d="M917.54,763.7 V769.7" stroke-width="1.8"/>
<path d="M957.72,763.7 V769.7" stroke-width="1.8"/>
<path d="M997.9,763.7 V769.7" stroke-width="1.8"/>
<path d="M1038.08,763.7 V769.7" stroke-width="1.8"/>
<path d="M1078.26,763.7 V769.7" stroke-width="1.8"/>
</g>
<g class="tk">
<text x="790.35" y="520.05" text-anchor="end">0.4</text>
<text x="790.35" y="551.40" text-anchor="end">0.3</text>
<text x="790.35" y="582.75" text-anchor="end">0.2</text>
<text x="790.35" y="614.10" text-anchor="end">0.1</text>
<text x="790.35" y="645.45" text-anchor="end">0.0</text>
<text x="790.35" y="676.80" text-anchor="end">-0.1</text>
<text x="790.35" y="708.15" text-anchor="end">-0.2</text>
<text x="790.35" y="739.50" text-anchor="end">-0.3</text>
<text x="790.35" y="770.85" text-anchor="end">-0.4</text>
<text x="794.4" y="787.4" text-anchor="middle">-0.3</text>
<text x="834.5799999999999" y="787.4" text-anchor="middle">-0.2</text>
<text x="874.76" y="787.4" text-anchor="middle">-0.1</text>
<text x="917.8399999999999" y="787.4" text-anchor="middle">0.0</text>
<text x="958.02" y="787.4" text-anchor="middle">0.1</text>
<text x="998.1999999999999" y="787.4" text-anchor="middle">0.2</text>
<text x="1038.3799999999999" y="787.4" text-anchor="middle">0.3</text>
<text x="1078.56" y="787.4" text-anchor="middle">0.4</text>
</g>
<text class="ttl" x="812" y="513">12 h</text>
<text class="lab" transform="translate(752,643.5) rotate(-90)" text-anchor="middle">Coordinate 2</text>
<text class="lab" x="942" y="820.8" text-anchor="middle">Coordinate 1</text>
<polygon points="829,523.25 839.25,532 850.25,560 889,680.5 866,688.75" fill="none" stroke="#f0666f" stroke-width="2.1" stroke-linejoin="round"/>
<polygon points="849,577.5 846,615 879.5,730.5 903,749.5" fill="none" stroke="#46b46e" stroke-width="2.1" stroke-linejoin="round"/>
<polygon points="983.25,656.5 1020,604.5 1025,602.25 1045.5,598.75 1048,611.5 1026.5,653.25 990.25,675.5" fill="none" stroke="#5f6bb9" stroke-width="2.1" stroke-linejoin="round"/>
<polygon points="829,519.92 832.06,523.25 829,526.58 825.94,523.25" fill="#eb1e28" stroke="#eb1e28" stroke-width="0.8" stroke-linejoin="round"/>
<polygon points="839.25,528.67 842.31,532 839.25,535.33 836.19,532" fill="#eb1e28" stroke="#eb1e28" stroke-width="0.8" stroke-linejoin="round"/>
<polygon points="850.25,556.67 853.31,560 850.25,563.33 847.19,560" fill="#eb1e28" stroke="#eb1e28" stroke-width="0.8" stroke-linejoin="round"/>
<polygon points="860.25,591.67 863.31,595 860.25,598.33 857.19,595" fill="#eb1e28" stroke="#eb1e28" stroke-width="0.8" stroke-linejoin="round"/>
<polygon points="853.25,597.92 856.31,601.25 853.25,604.58 850.19,601.25" fill="#eb1e28" stroke="#eb1e28" stroke-width="0.8" stroke-linejoin="round"/>
<polygon points="852.25,625.67 855.31,629 852.25,632.33 849.19,629" fill="#eb1e28" stroke="#eb1e28" stroke-width="0.8" stroke-linejoin="round"/>
<polygon points="861.75,629.67 864.81,633 861.75,636.33 858.69,633" fill="#eb1e28" stroke="#eb1e28" stroke-width="0.8" stroke-linejoin="round"/>
<polygon points="889,677.17 892.06,680.5 889,683.83 885.94,680.5" fill="#eb1e28" stroke="#eb1e28" stroke-width="0.8" stroke-linejoin="round"/>
<polygon points="866,685.42 869.06,688.75 866,692.08 862.94,688.75" fill="#eb1e28" stroke="#eb1e28" stroke-width="0.8" stroke-linejoin="round"/>
<circle cx="849" cy="577.5" r="3.00" fill="#0a7035"/>
<circle cx="846" cy="615" r="3.00" fill="#0a7035"/>
<circle cx="856.75" cy="644" r="3.00" fill="#0a7035"/>
<circle cx="872" cy="674.5" r="3.00" fill="#0a7035"/>
<circle cx="879.5" cy="730.5" r="3.00" fill="#0a7035"/>
<circle cx="884.25" cy="729" r="3.00" fill="#0a7035"/>
<circle cx="892.5" cy="727.5" r="3.00" fill="#0a7035"/>
<circle cx="903" cy="749.5" r="3.00" fill="#0a7035"/>
<polygon points="983.25,653.17 986.31,656.5 983.25,659.83 980.19,656.5" fill="#3650a8" stroke="#3650a8" stroke-width="0.8" stroke-linejoin="round"/>
<polygon points="990.25,672.17 993.31,675.5 990.25,678.83 987.19,675.5" fill="#3650a8" stroke="#3650a8" stroke-width="0.8" stroke-linejoin="round"/>
<polygon points="1026.5,649.92 1029.56,653.25 1026.5,656.58 1023.44,653.25" fill="#3650a8" stroke="#3650a8" stroke-width="0.8" stroke-linejoin="round"/>
<polygon points="1020,601.17 1023.06,604.5 1020,607.83 1016.94,604.5" fill="#3650a8" stroke="#3650a8" stroke-width="0.8" stroke-linejoin="round"/>
<polygon points="1025,598.92 1028.06,602.25 1025,605.58 1021.94,602.25" fill="#3650a8" stroke="#3650a8" stroke-width="0.8" stroke-linejoin="round"/>
<polygon points="1045.5,595.42 1048.56,598.75 1045.5,602.08 1042.44,598.75" fill="#3650a8" stroke="#3650a8" stroke-width="0.8" stroke-linejoin="round"/>
<polygon points="1048,608.17 1051.06,611.5 1048,614.83 1044.94,611.5" fill="#3650a8" stroke="#3650a8" stroke-width="0.8" stroke-linejoin="round"/>
<polygon points="1031.25,609.67 1034.31,613 1031.25,616.33 1028.19,613" fill="#3650a8" stroke="#3650a8" stroke-width="0.8" stroke-linejoin="round"/>
<polygon points="1035,612.17 1038.06,615.5 1035,618.83 1031.94,615.5" fill="#3650a8" stroke="#3650a8" stroke-width="0.8" stroke-linejoin="round"/>
<g stroke="#3a3a3a" stroke-width="1.4"><path d="M819,842.1 H1062.5"/><path d="M818,863.0 H1063.5"/></g>
<g class="tb"><text x="829" y="857.9">Sum of sqrs</text><text x="958" y="857.9" text-anchor="middle" font-style="italic">F</text><text x="1026" y="857.9" text-anchor="middle" font-style="italic">p</text><text x="875.3" y="883.4" text-anchor="middle">5.370</text><text x="959.5" y="883.4" text-anchor="middle">7.964</text><text x="1028" y="883.4" text-anchor="middle">0.0001</text></g>
<g stroke="#8e8e8e" stroke-width="2.8" fill="none">
<path d="M1157.4,513.25 V764.1 H1438.5"/>
<path d="M1151.8000000000002,513.25 H1157.4" stroke-width="1.8"/>
<path d="M1151.8000000000002,544.6 H1157.4" stroke-width="1.8"/>
<path d="M1151.8000000000002,575.95 H1157.4" stroke-width="1.8"/>
<path d="M1151.8000000000002,607.3 H1157.4" stroke-width="1.8"/>
<path d="M1151.8000000000002,638.65 H1157.4" stroke-width="1.8"/>
<path d="M1151.8000000000002,670.0 H1157.4" stroke-width="1.8"/>
<path d="M1151.8000000000002,701.35 H1157.4" stroke-width="1.8"/>
<path d="M1151.8000000000002,732.7 H1157.4" stroke-width="1.8"/>
<path d="M1151.8000000000002,764.05 H1157.4" stroke-width="1.8"/>
<path d="M1157.4,764.1 V770.1" stroke-width="1.8"/>
<path d="M1192.48,764.1 V770.1" stroke-width="1.8"/>
<path d="M1227.56,764.1 V770.1" stroke-width="1.8"/>
<path d="M1262.64,764.1 V770.1" stroke-width="1.8"/>
<path d="M1297.72,764.1 V770.1" stroke-width="1.8"/>
<path d="M1332.8,764.1 V770.1" stroke-width="1.8"/>
<path d="M1367.88,764.1 V770.1" stroke-width="1.8"/>
<path d="M1402.96,764.1 V770.1" stroke-width="1.8"/>
<path d="M1438.04,764.1 V770.1" stroke-width="1.8"/>
</g>
<g class="tk">
<text x="1150.5" y="520.05" text-anchor="end">0.4</text>
<text x="1150.5" y="551.40" text-anchor="end">0.3</text>
<text x="1150.5" y="582.75" text-anchor="end">0.2</text>
<text x="1150.5" y="614.10" text-anchor="end">0.1</text>
<text x="1150.5" y="645.45" text-anchor="end">0.0</text>
<text x="1150.5" y="676.80" text-anchor="end">-0.1</text>
<text x="1150.5" y="708.15" text-anchor="end">-0.2</text>
<text x="1150.5" y="739.50" text-anchor="end">-0.3</text>
<text x="1150.5" y="770.85" text-anchor="end">-0.4</text>
<text x="1155.4" y="787.4" text-anchor="middle">-0.4</text>
<text x="1190.48" y="787.4" text-anchor="middle">-0.3</text>
<text x="1225.56" y="787.4" text-anchor="middle">-0.2</text>
<text x="1260.64" y="787.4" text-anchor="middle">-0.1</text>
<text x="1297.52" y="787.4" text-anchor="middle">0.0</text>
<text x="1332.6" y="787.4" text-anchor="middle">0.1</text>
<text x="1367.68" y="787.4" text-anchor="middle">0.2</text>
<text x="1402.76" y="787.4" text-anchor="middle">0.3</text>
<text x="1437.84" y="787.4" text-anchor="middle">0.4</text>
</g>
<text class="ttl" x="1174" y="513">18 h</text>
<text class="lab" transform="translate(1112,643.5) rotate(-90)" text-anchor="middle">Coordinate 2</text>
<text class="lab" x="1310" y="820.8" text-anchor="middle">Coordinate 1</text>
<polygon points="1387,594.75 1349,709.25 1289.75,739 1286,725 1276,690.75" fill="none" stroke="#46b46e" stroke-width="2.1" stroke-linejoin="round"/>
<polygon points="1278.25,682.5 1409,542.5 1421.5,552.75 1389.5,638.75 1316,684.5 1294,687.5" fill="none" stroke="#f0666f" stroke-width="2.1" stroke-linejoin="round"/>
<polygon points="1164,579.5 1175.5,559 1186.5,549.25 1357.75,546.75 1373.25,580 1278.25,700" fill="none" stroke="#5f6bb9" stroke-width="2.1" stroke-linejoin="round"/>
<circle cx="1387" cy="594.75" r="3.30" fill="#0a7035"/>
<circle cx="1276" cy="690.75" r="3.30" fill="#0a7035"/>
<circle cx="1323.25" cy="698.5" r="3.30" fill="#0a7035"/>
<circle cx="1285.5" cy="703" r="3.30" fill="#0a7035"/>
<circle cx="1349" cy="709.25" r="3.30" fill="#0a7035"/>
<circle cx="1286" cy="725" r="3.30" fill="#0a7035"/>
<circle cx="1289.75" cy="739" r="3.30" fill="#0a7035"/>
<circle cx="1409" cy="542.5" r="3.30" fill="#eb1e28"/>
<circle cx="1421.5" cy="552.75" r="3.30" fill="#eb1e28"/>
<circle cx="1389.5" cy="638.75" r="3.30" fill="#eb1e28"/>
<circle cx="1313.25" cy="649" r="3.30" fill="#eb1e28"/>
<circle cx="1278.25" cy="682.5" r="3.30" fill="#eb1e28"/>
<circle cx="1283.5" cy="684.5" r="3.30" fill="#eb1e28"/>
<circle cx="1294" cy="687.5" r="3.30" fill="#eb1e28"/>
<circle cx="1316" cy="684.5" r="3.30" fill="#eb1e28"/>
<circle cx="1164" cy="579.5" r="3.30" fill="#3650a8"/>
<circle cx="1175.5" cy="559" r="3.30" fill="#3650a8"/>
<circle cx="1186.5" cy="549.25" r="3.30" fill="#3650a8"/>
<circle cx="1357.75" cy="546.75" r="3.30" fill="#3650a8"/>
<circle cx="1373.25" cy="580" r="3.30" fill="#3650a8"/>
<circle cx="1196" cy="579.25" r="3.30" fill="#3650a8"/>
<circle cx="1208.75" cy="617" r="3.30" fill="#3650a8"/>
<circle cx="1278.25" cy="700.5" r="3.30" fill="#3650a8"/>
<g stroke="#3a3a3a" stroke-width="1.4"><path d="M1186,842.1 H1429.5"/><path d="M1185,863.0 H1430.5"/></g>
<g class="tb"><text x="1196" y="857.9">Sum of sqrs</text><text x="1325" y="857.9" text-anchor="middle" font-style="italic">F</text><text x="1393" y="857.9" text-anchor="middle" font-style="italic">p</text><text x="1242.3" y="883.4" text-anchor="middle">6.307</text><text x="1326.5" y="883.4" text-anchor="middle">2.548</text><text x="1395" y="883.4" text-anchor="middle">0.0001</text></g>
<text class="pl" x="0.5" y="24.3">A</text>
<text class="pl" x="1" y="470">B</text>
</svg>
</body>
</html>
